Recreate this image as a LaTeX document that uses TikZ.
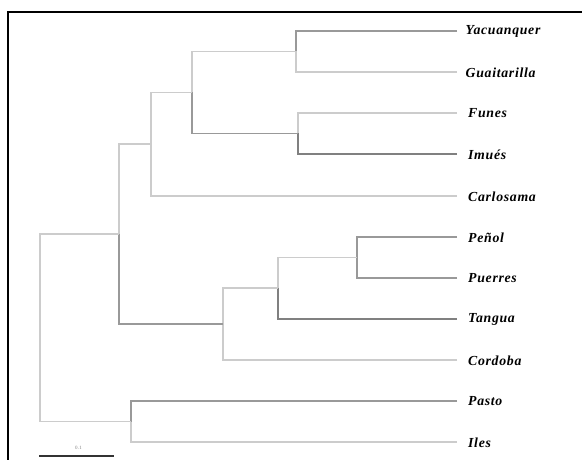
\documentclass[tikz,border=0pt]{standalone}
\usepackage{fontspec}
\setmainfont{Liberation Serif}[LetterSpace=5]
\begin{document}
\begin{tikzpicture}[x=1pt,y=-1pt,
  br/.style={line width=1.1pt,draw=black!40},
  brl/.style={line width=1.1pt,draw=black!20},
  brd/.style={line width=1.1pt,draw=black!50},
  taxon/.style={anchor=west,inner sep=0pt,font=\fontsize{13.8}{16}\selectfont\bfseries\itshape},
  frame/.style={line width=2pt,draw=black}]
\useasboundingbox (0,0) rectangle (582,460);
% frame
\draw[frame] (8,460) -- (8,12.5) -- (582,12.5);
% leaf tips
\coordinate (t1) at (457,31);
\coordinate (t2) at (457,72);
\coordinate (t3) at (457,113);
\coordinate (t4) at (457,154);
\coordinate (t5) at (457,196);
\coordinate (t6) at (457,237);
\coordinate (t7) at (457,278);
\coordinate (t8) at (457,319);
\coordinate (t9) at (457,360);
\coordinate (t10) at (457,401);
\coordinate (t11) at (457,442);
% internal nodes
\coordinate (n1) at (296,51.5);
\coordinate (n2) at (298,133.5);
\coordinate (n3) at (192,92.5);
\coordinate (n4) at (151,144);
\coordinate (n5) at (357,257.5);
\coordinate (n6) at (278,288);
\coordinate (n7) at (223,324);
\coordinate (n8) at (119,234);
\coordinate (n9) at (131,421.5);
\coordinate (root) at (40,327);
% labels
\node[taxon] (L1) at (465.5,31.5) {Yacuanquer};
\node[taxon] (L2) at (465.5,72.5) {Guaitarilla};
\node[taxon] (L3) at (468,113.5) {Funes};
\node[taxon] (L4) at (468,154.5) {Imués};
\node[taxon] (L5) at (468,196.5) {Carlosama};
\node[taxon] (L6) at (468,237.5) {Peñol};
\node[taxon] (L7) at (468,278.5) {Puerres};
\node[taxon] (L8) at (468,319.5) {Tangua};
\node[taxon] (L9) at (468,360.5) {Cordoba};
\node[taxon] (L10) at (468,401.5) {Pasto};
\node[taxon] (L11) at (468,442.5) {Iles};
% branches
\draw[br] (t1) -| (n1);
\draw[brl] (t2) -| (n1);
\draw[brl] (t3) -| (n2);
\draw[brd] (t4) -| (n2);
\draw[brl] (n1) -| (n3);
\draw[br] (n2) -| (n3);
\draw[brl] (n3) -| (n4);
\draw[brl] (t5) -| (n4);
\draw[br] (t6) -| (n5);
\draw[br] (t7) -| (n5);
\draw[brl] (n5) -| (n6);
\draw[brd] (t8) -| (n6);
\draw[brl] (n6) -| (n7);
\draw[brl] (t9) -| (n7);
\draw[brl] (n4) -| (n8);
\draw[br] (n7) -| (n8);
\draw[br] (t10) -| (n9);
\draw[brl] (t11) -| (n9);
\draw[brl] (n8) -| (root);
\draw[brl] (n9) -| (root);
% scale bar
\coordinate (s1) at (39,455.5);
\coordinate (s2) at (114,455.5);
\draw[line width=2pt,black!80] (s1) -- (s2);
\node[font=\fontsize{5}{6}\selectfont,text=black!50,inner sep=0pt] (sl) at (78.5,447.5) {0.1};
\end{tikzpicture}
\end{document}
